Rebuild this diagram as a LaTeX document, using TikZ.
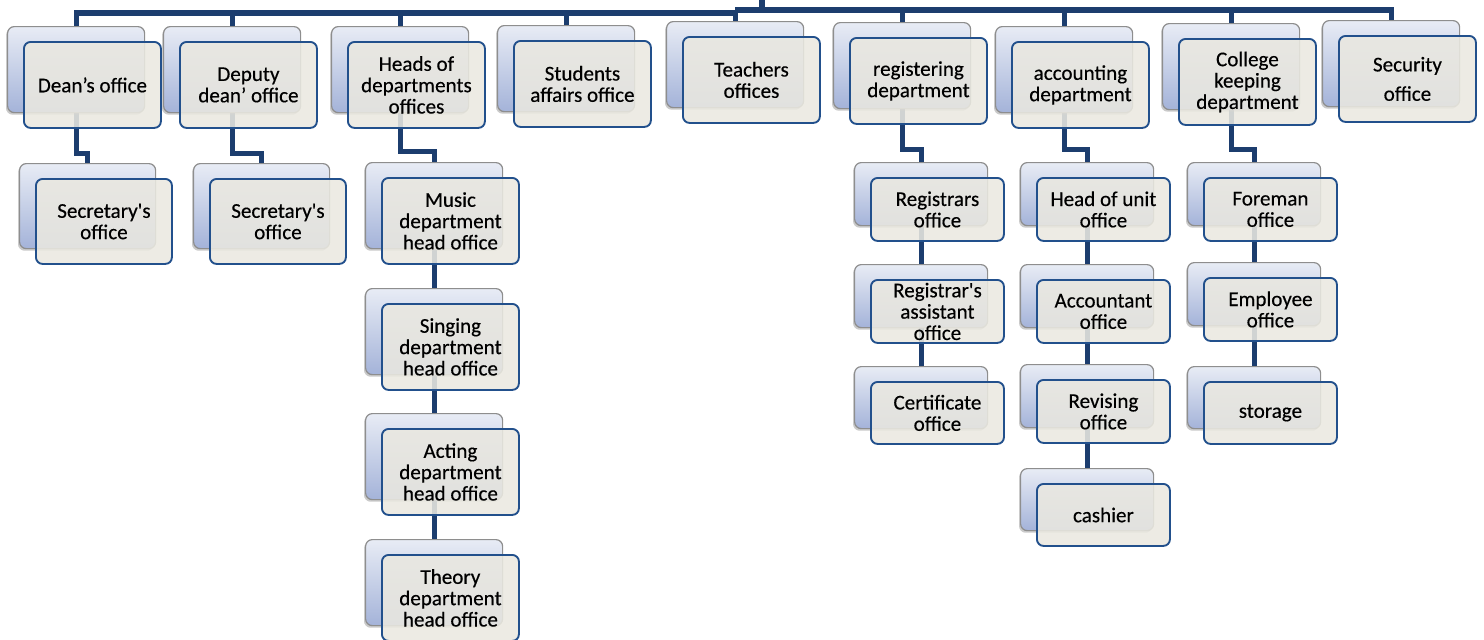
\documentclass[tikz,border=0pt]{standalone}
\usepackage{fontspec}
\setmainfont{Carlito}[Ligatures=TeXOff,FakeBold=0.4]
\usetikzlibrary{shadows,calc}
\definecolor{navy}{HTML}{1C3D6E}
\definecolor{frontblue}{HTML}{22508C}
\definecolor{frontfill}{HTML}{EAE8E0}
\definecolor{backtop}{HTML}{E8ECF5}
\definecolor{backbot}{HTML}{A4B3D9}
\definecolor{boxgray}{HTML}{8E8E8E}
\pgfdeclarelayer{bg}
\pgfsetlayers{bg,main}
\tikzset{
  backbox/.style={draw=boxgray, line width=0.9pt, rounded corners=5pt,
    top color=backtop, bottom color=backbot, anchor=north west, inner sep=0pt,
    drop shadow={shadow xshift=-1.2pt, shadow yshift=-1.6pt, opacity=0.35, fill=black!60}},
  frontbox/.style={draw=frontblue, line width=1.4pt, rounded corners=5pt,
    fill=frontfill, fill opacity=0.88, text opacity=1, anchor=north west,
    inner sep=0pt, align=center, font=\fontsize{15.8}{16}\selectfont},
  conn/.style={draw=navy, line width=3.8pt},
}
% name, x, y, w, h, text
\newcommand\officepair[6]{%
  \node[backbox, minimum width={#4*0.75pt}, minimum height={#5*0.75pt}] (#1B) at (#2,#3) {};
  \node[frontbox, minimum width={#4*0.75pt}, minimum height={#5*0.75pt}] (#1) at (#2+16,#3+15) {#6};
}
\begin{document}
\begin{tikzpicture}[x=0.75pt,y=-0.75pt]
\useasboundingbox (0,0) rectangle (1484,639);
% top level
\officepair{dean}{7}{26}{137}{86}{Dean’s office}
\officepair{deputy}{163}{26}{137}{86}{Deputy\\dean’ office}
\officepair{heads}{331}{26}{137}{86}{Heads of\\departments\\offices}
\officepair{students}{497}{25}{137}{86}{Students\\affairs office}
\officepair{teachers}{666}{21}{137}{86}{Teachers\\offices}
\officepair{registering}{833}{22}{137}{86}{registering\\department}
\officepair{accounting}{995}{26}{137}{86}{accounting\\department}
\officepair{college}{1162}{23}{137}{86}{College\\keeping\\department}
\officepair{security}{1322}{20}{137}{86}{Security\\[6pt]office}
% second level
\officepair{secA}{19}{163}{136}{85}{Secretary's\\office}
\officepair{secB}{193}{163}{136}{85}{Secretary's\\office}
\officepair{music}{365}{162}{137}{86}{Music\\department\\head office}
\officepair{singing}{365}{288}{137}{86}{Singing\\department\\head office}
\officepair{acting}{365}{413}{137}{86}{Acting\\department\\head office}
\officepair{theory}{365}{539}{137}{86}{Theory\\department\\head office}
\officepair{registrars}{854}{162}{133}{63}{Registrars\\office}
\officepair{regassist}{854}{264}{133}{63}{Registrar's\\assistant\\office}
\officepair{certificate}{854}{366}{133}{62}{Certificate\\office}
\officepair{headunit}{1020}{162}{133}{63}{Head of unit\\office}
\officepair{accountant}{1020}{264}{133}{63}{Accountant\\office}
\officepair{revising}{1020}{364}{133}{63}{Revising\\office}
\officepair{cashier}{1020}{468}{133}{62}{cashier}
\officepair{foreman}{1187}{162}{133}{63}{Foreman\\office}
\officepair{employee}{1187}{262}{133}{63}{Employee\\office}
\officepair{storage}{1187}{366}{133}{62}{storage}
\begin{pgfonlayer}{bg}
  \coordinate (root) at (762,-4);
  \coordinate (barL) at (0,13);
  \coordinate (barR) at (0,10);
  \draw[conn] (deanB.north) -- (deanB.north |- barL) -- (teachersB.north |- barL);
  \draw[conn] (root) -- (root |- barR);
  \draw[conn] (teachersB.north |- barR) -- (securityB.north |- barR) -- (securityB.north);
  \draw[conn] (deputyB.north |- barL) -- (deputyB.north);
  \draw[conn] (headsB.north |- barL) -- (headsB.north);
  \draw[conn] (studentsB.north |- barL) -- (studentsB.north);
  \draw[conn] (teachersB.north |- barR) -- (teachersB.north);
  \draw[conn] (registeringB.north |- barR) -- (registeringB.north);
  \draw[conn] (accountingB.north |- barR) -- (accountingB.north);
  \draw[conn] (collegeB.north |- barR) -- (collegeB.north);
  % children
  \draw[conn] (deanB.south) -- ++(0,40) -| (secAB.north);
  \draw[conn] (deputyB.south) -- ++(0,40) -| (secBB.north);
  \draw[conn] (headsB.south) -- ++(0,38) -| (musicB.north);
  \draw[conn] (musicB.south) -- (singingB.north);
  \draw[conn] (singingB.south) -- (actingB.north);
  \draw[conn] (actingB.south) -- (theoryB.north);
  \draw[conn] (registeringB.south) -- ++(0,40) -| (registrarsB.north);
  \draw[conn] (registrarsB.south) -- (regassistB.north);
  \draw[conn] (regassistB.south) -- (certificateB.north);
  \draw[conn] (accountingB.south) -- ++(0,36) -| (headunitB.north);
  \draw[conn] (headunitB.south) -- (accountantB.north);
  \draw[conn] (accountantB.south) -- (revisingB.north);
  \draw[conn] (revisingB.south) -- (cashierB.north);
  \draw[conn] (collegeB.south) -- ++(0,39) -| (foremanB.north);
  \draw[conn] (foremanB.south) -- (employeeB.north);
  \draw[conn] (employeeB.south) -- (storageB.north);
\end{pgfonlayer}
\end{tikzpicture}
\end{document}
